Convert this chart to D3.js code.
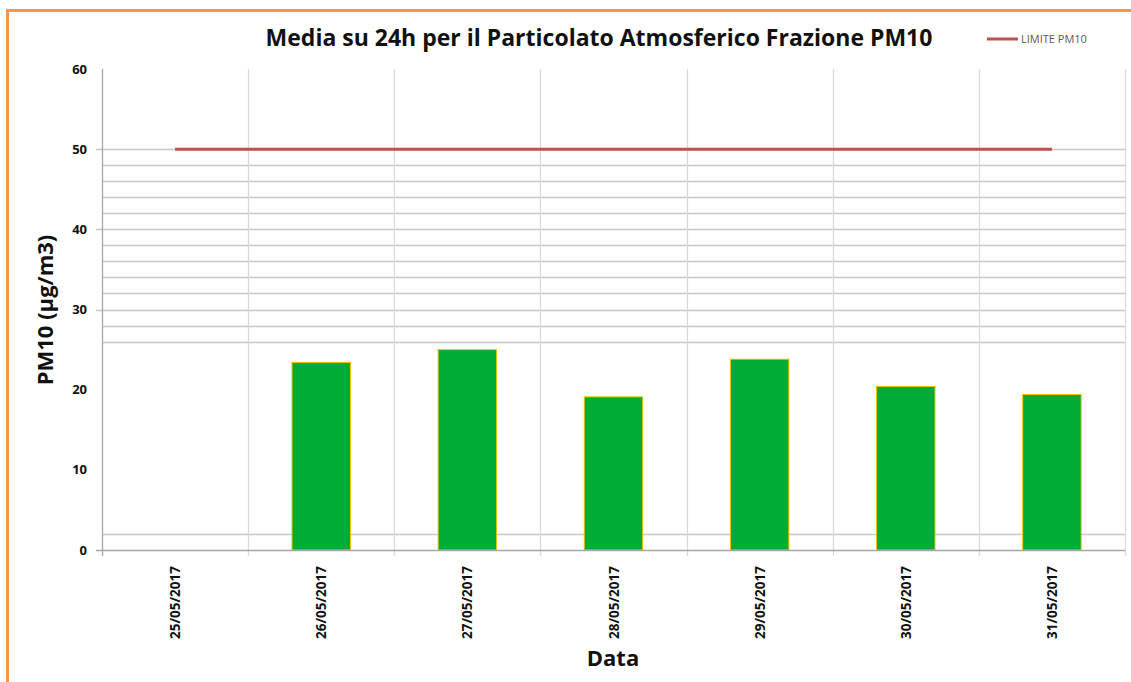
<!DOCTYPE html>
<html>
<head>
<meta charset="utf-8">
<script src="https://cdn.jsdelivr.net/npm/d3@7"></script>
<style>
  body { margin: 0; background: #fff; }
  svg { display: block; font-family: "Open Sans", "DejaVu Sans", sans-serif; }
</style>
</head>
<body>
<svg id="chart" width="1131" height="682"></svg>
<script>
// dati
const giorni = ['25/05/2017', '26/05/2017', '27/05/2017', '28/05/2017', '29/05/2017', '30/05/2017', '31/05/2017'];
const pm10 = [null, 23.4, 25.0, 19.1, 23.8, 20.4, 19.4];
const limite = [50, 50, 50, 50, 50, 50, 50];
const yTicks = [0, 10, 20, 30, 40, 50, 60];
const griglia = [50, 48, 46, 44, 42, 40, 38, 36, 34, 32, 30, 28, 26, 2];

const svg = d3.select('#chart');
const pLeft = 102, pRight = 1125, pTop = 69, pBottom = 550;

// cornice arancione
svg.append('path')
    .attr('d', 'M7.5,682 L7.5,10.5 L1131,10.5')
    .style('fill', 'none')
    .style('stroke', '#f79646')
    .style('stroke-width', 3);

let x = d3.scaleBand().domain(giorni).range([pLeft, pRight]);
let y = d3.scaleLinear().domain([0, 60]).range([pBottom, pTop]);

// griglia orizzontale
svg.selectAll('line.hgrid')
    .data(griglia)
    .enter()
    .append('line')
    .attr('class', 'hgrid')
    .attr('x1', d => d % 10 === 0 ? pLeft - 6 : pLeft)
    .attr('x2', pRight)
    .attr('y1', d => Math.round(y(d)) + 0.5)
    .attr('y2', d => Math.round(y(d)) + 0.5)
    .style('stroke', '#c8c8c8')
    .style('stroke-width', 1.3);

// griglia verticale
svg.selectAll('line.vgrid')
    .data(giorni)
    .enter()
    .append('line')
    .attr('class', 'vgrid')
    .attr('x1', d => Math.round(x(d) + x.bandwidth()) + 0.5)
    .attr('x2', d => Math.round(x(d) + x.bandwidth()) + 0.5)
    .attr('y1', pTop)
    .attr('y2', pBottom + 6)
    .style('stroke', '#d9d9d9')
    .style('stroke-width', 1.3);

// barre
let barW = x.bandwidth() * 0.4;
svg.selectAll('rect.bar')
    .data(giorni.map((g, i) => ({ g: g, v: pm10[i] })).filter(d => d.v !== null))
    .enter()
    .append('rect')
    .attr('class', 'bar')
    .attr('x', d => x(d.g) + x.bandwidth() / 2 - barW / 2)
    .attr('y', d => y(d.v))
    .attr('width', barW)
    .attr('height', d => y(0) - y(d.v))
    .style('fill', '#00ac35')
    .style('stroke', '#f2c100')
    .style('stroke-width', 1);

// asse y
svg.append('line')
    .attr('x1', pLeft + 0.5).attr('x2', pLeft + 0.5)
    .attr('y1', pTop).attr('y2', pBottom)
    .style('stroke', '#a6a6a6').style('stroke-width', 1.3);

// asse x
svg.append('line')
    .attr('x1', pLeft - 6).attr('x2', pRight)
    .attr('y1', pBottom + 0.5).attr('y2', pBottom + 0.5)
    .style('stroke', '#a6a6a6').style('stroke-width', 1.5);
svg.append('line')
    .attr('x1', pLeft + 0.5).attr('x2', pLeft + 0.5)
    .attr('y1', pBottom).attr('y2', pBottom + 6)
    .style('stroke', '#a6a6a6').style('stroke-width', 1.3);

svg.selectAll('text.ytick')
    .data(yTicks)
    .enter()
    .append('text')
    .attr('class', 'ytick')
    .attr('x', 87)
    .attr('y', d => y(d))
    .attr('dy', '0.35em')
    .attr('text-anchor', 'end')
    .style('font-size', '13px')
    .style('font-weight', 'bold')
    .style('fill', '#111')
    .text(d => d);

svg.selectAll('text.xtick')
    .data(giorni)
    .enter()
    .append('text')
    .attr('class', 'xtick')
    .attr('transform', d => 'translate(' + (x(d) + x.bandwidth() / 2 + 5) + ',' + (pBottom + 16) + ') rotate(-90)')
    .attr('text-anchor', 'end')
    .style('font-size', '13.5px')
    .style('font-weight', 'bold')
    .style('fill', '#111')
    .text(d => d);

// linea limite
let linea = d3.line()
    .x((d, i) => x(giorni[i]) + x.bandwidth() / 2)
    .y(d => y(d));
svg.append('path')
    .datum(limite)
    .attr('d', linea)
    .style('fill', 'none')
    .style('stroke', '#c0504d')
    .style('stroke-width', 3);

// titolo
svg.append('text')
    .attr('x', 599).attr('y', 46)
    .attr('text-anchor', 'middle')
    .style('font-size', '23px')
    .style('font-weight', 'bold')
    .style('fill', '#111')
    .text('Media su 24h per il Particolato Atmosferico Frazione PM10');

// legenda
svg.append('line')
    .attr('x1', 987).attr('x2', 1018)
    .attr('y1', 39).attr('y2', 39)
    .style('stroke', '#c0504d')
    .style('stroke-width', 3);
svg.append('text')
    .attr('x', 1021).attr('y', 43)
    .style('font-size', '11px')
    .style('fill', '#595959')
    .text('LIMITE PM10');

// titoli assi
svg.append('text')
    .attr('transform', 'translate(53,310) rotate(-90)')
    .attr('text-anchor', 'middle')
    .style('font-size', '22px')
    .style('font-weight', 'bold')
    .style('fill', '#111')
    .text('PM10 (µg/m3)');

svg.append('text')
    .attr('x', 613).attr('y', 666)
    .attr('text-anchor', 'middle')
    .style('font-size', '22px')
    .style('font-weight', 'bold')
    .style('fill', '#111')
    .text('Data');
</script>
</body>
</html>
